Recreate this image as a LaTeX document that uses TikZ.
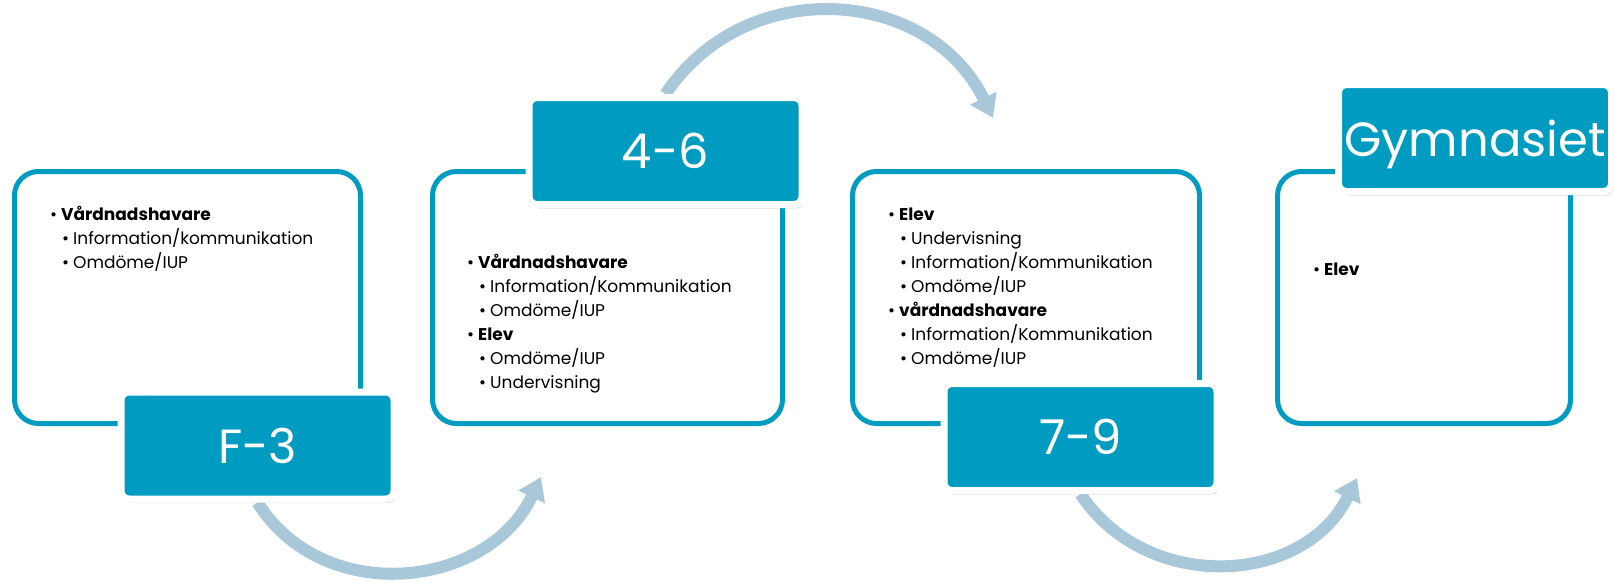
\documentclass[tikz,border=0pt]{standalone}
\usepackage{fontspec}
\setmainfont{Poppins}
\usetikzlibrary{arrows.meta,shadows,backgrounds}

\definecolor{stageteal}{HTML}{009BC0}
\definecolor{flowblue}{HTML}{A8C8DA}

\begin{document}
\begin{tikzpicture}[x=1pt,y=-1pt,
    stagebox/.style={draw=stageteal,line width=5pt,fill=white,rounded corners=24pt,inner sep=0},
    stagelabel/.style={fill=stageteal,draw=white,line width=7pt,rounded corners=8pt,
        minimum width=273pt,minimum height=107pt,inner sep=0,text depth=0pt,
        text=white,font=\labelfontsize,
        drop shadow={shadow xshift=2pt,shadow yshift=-4pt,opacity=0.25}},
    itemtext/.style={anchor=base west,align=left,inner sep=0,font=\itemfontsize},
    flow/.style={draw=flowblue,line width=12pt,-{Triangle[width=28pt,length=22pt]}}]
    \pgfmathsetmacro{\boxtop}{297.5}
    \pgfmathsetmacro{\boxheight}{252}
    \providecommand{\itemfontsize}{\fontsize{17}{24}\selectfont}
    \providecommand{\labelfontsize}{\fontsize{48}{56}\selectfont}
    \providecommand{\mainitem}[1]{\textbullet\hspace{4pt}\textbf{#1}}
    \providecommand{\smallitem}[1]{\hspace*{12pt}\textbullet\hspace{4pt}#1}
    \useasboundingbox (0,0) rectangle (1614,582);
    % the four stages
    \node[stagebox,minimum width=346pt,minimum height=\boxheight pt] (box1) at (187.5,\boxtop) {};
    \node[stagebox,minimum width=350pt,minimum height=\boxheight pt] (box2) at (607.5,\boxtop) {};
    \node[stagebox,minimum width=347pt,minimum height=\boxheight pt] (box3) at (1026,\boxtop) {};
    \node[stagebox,minimum width=293pt,minimum height=\boxheight pt] (box4) at (1424,\boxtop) {};
    % base = baseline of the last line
    \node[itemtext] (txt1) at (50,268) {\mainitem{Vårdnadshavare}\\
        \smallitem{Information/kommunikation}\\
        \smallitem{Omdöme/IUP}};
    \node[itemtext] (txt2) at (467,388) {\mainitem{Vårdnadshavare}\\
        \smallitem{Information/Kommunikation}\\
        \smallitem{Omdöme/IUP}\\
        \mainitem{Elev}\\
        \smallitem{Omdöme/IUP}\\
        \smallitem{Undervisning}};
    \node[itemtext] (txt3) at (888,364) {\mainitem{Elev}\\
        \smallitem{Undervisning}\\
        \smallitem{Information/Kommunikation}\\
        \smallitem{Omdöme/IUP}\\
        \mainitem{vårdnadshavare}\\
        \smallitem{Information/Kommunikation}\\
        \smallitem{Omdöme/IUP}};
    \node[itemtext] (txt4) at (1313,275) {\mainitem{Elev}};
    % labels
    \node[stagelabel] (f3) at (257.5,445.5) {F-3};
    \node[stagelabel] (n46) at (665.5,151) {4-6};
    \node[stagelabel] (n79) at (1080.5,437) {7-9};
    \node[stagelabel] (gym) at (1475,138) {Gymnasiet};
    \coordinate (t1) at (541,477);
    \coordinate (t2) at (993,118);
    \coordinate (t3) at (1357,478);
    \begin{pgfonlayer}{background}
        \draw[flow] (f3.south) .. controls +(66,105) and +(-53,112) .. (t1);
        \draw[flow] (n46.north) .. controls +(81,-121) and +(-64,-131) .. (t2);
        \draw[flow] (n79.south) .. controls +(66,100) and +(-53,108) .. (t3);
    \end{pgfonlayer}
\end{tikzpicture}
\end{document}
